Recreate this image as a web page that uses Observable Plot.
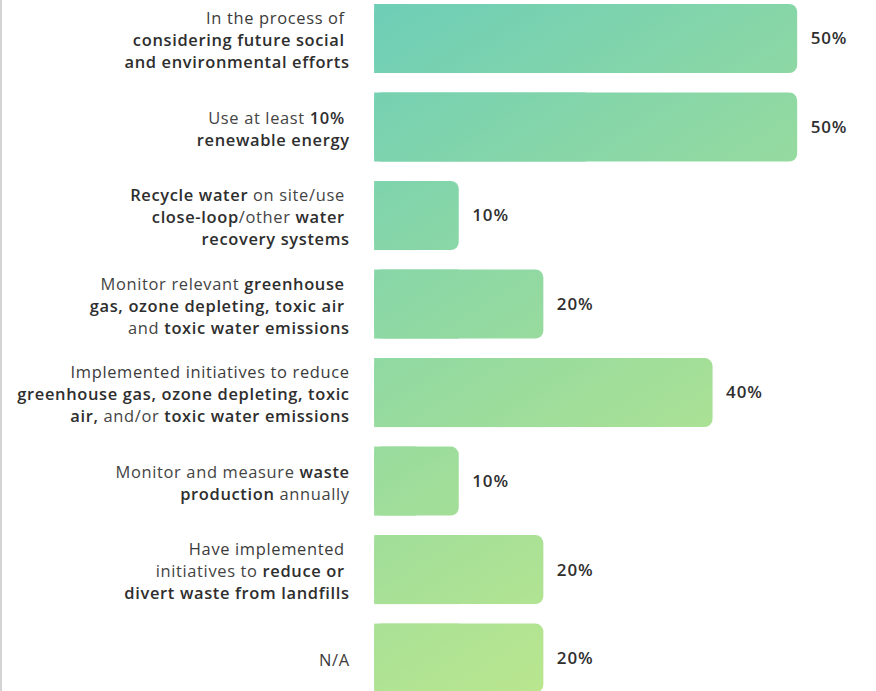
<!DOCTYPE html>
<html>
<head>
<meta charset="utf-8">
<script src="https://cdn.jsdelivr.net/npm/d3@7"></script>
<script src="https://cdn.jsdelivr.net/npm/@observablehq/plot@0.6"></script>
<style>
  html, body { margin: 0; padding: 0; background: #fff; overflow: hidden; }
  #wrap { position: relative; width: 876px; height: 691px; border-left: 2px solid #d4d4d4; box-sizing: border-box; }
  #wrap svg { position: absolute; left: -2px; top: 0; }
</style>
</head>
<body>
<div id="wrap"></div>
<script>
// Labels use **...** for bold runs; "\n" separates lines
const labels = [
  "In the process of \n**considering future social **\n**and environmental efforts**",
  "Use at least **10%** \n**renewable energy**",
  "**Recycle water** on site/use \n**close-loop**/other **water** \n**recovery systems**",
  "Monitor relevant **greenhouse** \n**gas, ozone depleting, toxic air** \nand **toxic water emissions**",
  "Implemented initiatives to reduce\n**greenhouse gas, ozone depleting, toxic**\n**air,** and/or **toxic water emissions**",
  "Monitor and measure **waste**\n**production** annually",
  "Have implemented \ninitiatives to **reduce or** \n**divert waste from landfills**",
  "N/A"
];
const values = [50, 50, 10, 20, 40, 10, 20, 20];
const valueLabels = ["50%", "50%", "10%", "20%", "40%", "10%", "20%", "20%"];

const data = labels.map((label, i) => ({label, value: values[i], text: valueLabels[i]}));

const FONT = "'Open Sans', Lato, sans-serif";

const chart = Plot.plot({
  width: 876,
  height: 691,
  marginTop: 0, marginBottom: 0, marginLeft: 0, marginRight: 0,
  style: {fontFamily: FONT, background: "transparent", overflow: "visible"},
  x: {domain: [0, 50], range: [375, 799], axis: null},
  y: {domain: labels, range: [4, 694.2], paddingInner: 0.22, paddingOuter: 0, round: false, axis: null},
  marks: [
    Plot.barX(data, {y: "label", x1: 0, x2: "value", fill: "url(#barGrad)", rx: 8}),
    Plot.barX(data, {y: "label", x1: 0, x2: d => d.value / 2, fill: "url(#barGrad)"}),
    Plot.text(data, {y: "label", x: 0, text: "label", textAnchor: "end", dx: -25,
      fontSize: 16.5, lineHeight: 1.34, fill: "#3b3b3b", className: "rowlabel"}),
    Plot.text(data, {y: "label", x: "value", text: "text", textAnchor: "start", dx: 13,
      fontSize: 17, fontWeight: 600, fill: "#2f2f2f", className: "vallabel"})
  ]
});

// gradient shared across all bars (user space)
const xs = chart.scale("x");
const ns = "http://www.w3.org/2000/svg";
const defs = document.createElementNS(ns, "defs");
const grad = document.createElementNS(ns, "linearGradient");
grad.setAttribute("id", "barGrad");
grad.setAttribute("gradientUnits", "userSpaceOnUse");
grad.setAttribute("x1", xs.apply(0));
grad.setAttribute("y1", 0);
grad.setAttribute("x2", xs.apply(50));
grad.setAttribute("y2", 691);
[["0", "#6dceb7"], ["0.5", "#9bdc9c"], ["1", "#c8eb88"]].forEach(([o, c]) => {
  const s = document.createElementNS(ns, "stop");
  s.setAttribute("offset", o);
  s.setAttribute("stop-color", c);
  grad.appendChild(s);
});
defs.appendChild(grad);
chart.insertBefore(defs, chart.firstChild);

chart.querySelectorAll("g.vallabel text").forEach(t => { t.style.letterSpacing = "0.9px"; });

// mixed-weight rich text for row labels
chart.querySelectorAll("g.rowlabel text").forEach(t => {
  t.setAttributeNS("http://www.w3.org/XML/1998/namespace", "xml:space", "preserve");
  t.style.whiteSpace = "pre";
  t.style.letterSpacing = "0.65px";
  const targets = t.querySelectorAll("tspan").length ? t.querySelectorAll("tspan") : [t];
  targets.forEach(el => {
    const str = el.textContent;
    if (!str.includes("**")) return;
    el.textContent = "";
    str.split("**").forEach((part, k) => {
      if (!part) return;
      const sp = document.createElementNS(ns, "tspan");
      sp.textContent = part;
      if (k % 2 === 1) { sp.setAttribute("font-weight", 600); sp.setAttribute("fill", "#2e2e2e"); }
      else { sp.setAttribute("font-weight", 400); sp.setAttribute("fill", "#444"); }
      el.appendChild(sp);
    });
  });
});

document.getElementById("wrap").appendChild(chart);
</script>
</body>
</html>
